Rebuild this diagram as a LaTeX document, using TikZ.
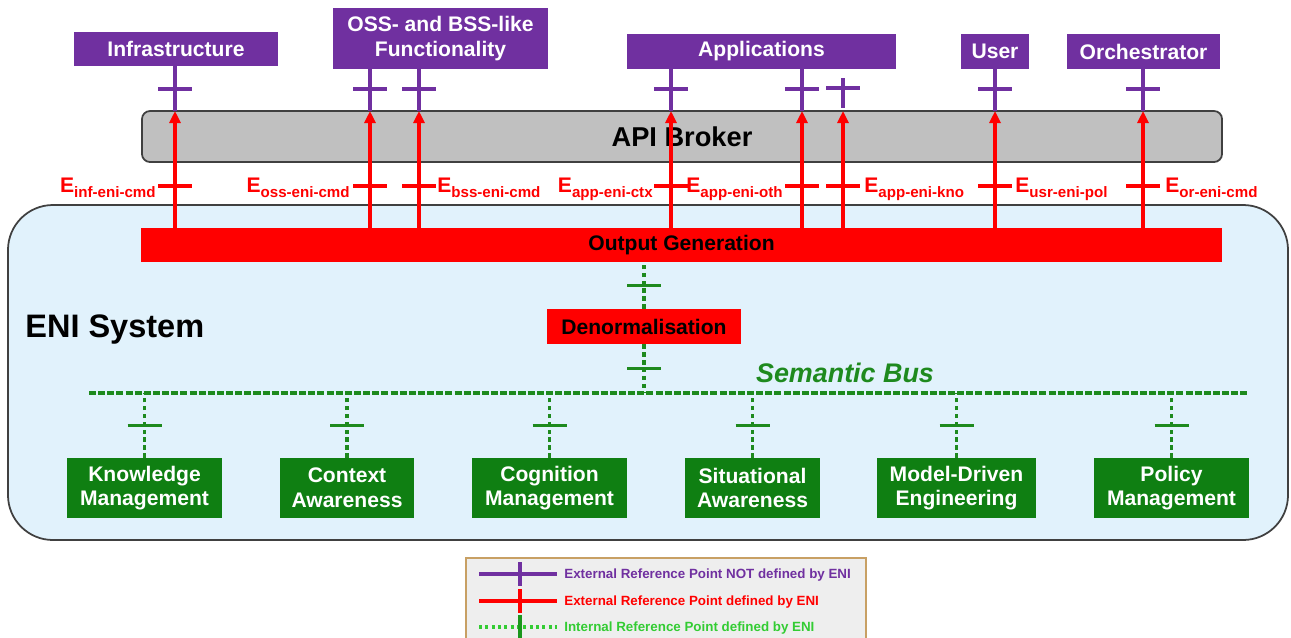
\documentclass[tikz,border=0pt]{standalone}
\usepackage{fontspec}
\setmainfont{Liberation Sans}
\usetikzlibrary{arrows.meta,calc}
\definecolor{extpurple}{HTML}{7030A0}
\definecolor{enired}{HTML}{FF0000}
\definecolor{fngreen}{HTML}{0F7F12}
\definecolor{busgreen}{HTML}{1E8A1E}
\definecolor{litegreen}{HTML}{33CC33}
\definecolor{system}{HTML}{E1F2FC}
\definecolor{broker}{HTML}{C0C0C0}
\definecolor{frame}{HTML}{404040}
\definecolor{legendfill}{HTML}{EEEEEE}
\definecolor{legendrim}{HTML}{C8A064}
\tikzset{
  extbox/.style={fill=extpurple,text=white,font=\fontsize{12}{14}\selectfont\bfseries,align=center,inner sep=2pt,minimum height=7mm},
  fnbox/.style={fill=fngreen,text=white,font=\fontsize{12}{14}\selectfont\bfseries,align=center,inner sep=2pt,minimum height=12mm},
  redbox/.style={fill=enired,text=black,font=\fontsize{12}{14}\selectfont\bfseries,align=center,inner sep=2pt,minimum height=7mm},
  purpleline/.style={extpurple,line width=2pt},
  redline/.style={enired,line width=2pt,-{Triangle[length=2.4mm,width=2.2mm]}},
  redtick/.style={enired,line width=2pt},
  intline/.style={busgreen,line width=2pt,dash pattern=on 2.5pt off 2pt},
  inttick/.style={busgreen,line width=2pt},
  busline/.style={busgreen,line width=2pt,dash pattern=on 4pt off 1.2pt},
  reflabel/.style={text=enired,font=\fontsize{12}{14}\selectfont\bfseries,inner sep=0pt},
  legendtext/.style={font=\fontsize{7.6}{8}\selectfont\bfseries,anchor=west,inner sep=0pt},
}
\newcommand{\epoint}[1]{E\raisebox{-0.5ex}{\fontsize{8.6}{9}\selectfont #1}}

\begin{document}
\begin{tikzpicture}[x=0.2mm,y=-0.2mm]
  \useasboundingbox (0,0) rectangle (1291,637);

  % ENI system frame
  \node[draw=frame,fill=system,line width=1pt,rounded corners=9mm,minimum width=256mm,minimum height=67mm] (eni) at (648,372.5) {};
  \node[anchor=west,font=\fontsize{18.5}{20}\selectfont\bfseries,inner sep=0pt] (enilabel) at (25,330) {ENI System};

  % external functional blocks
  \node[extbox,minimum width=40.8mm,minimum height=6.8mm] (infra) at (176,49) {Infrastructure};
  \node[extbox,minimum width=43mm,minimum height=12.2mm] (oss) at (440.5,38.5) {OSS- and BSS-like\\Functionality};
  \node[extbox,minimum width=53.8mm] (apps) at (761.5,51.5) {Applications};
  \node[extbox,minimum width=13.6mm] (user) at (995,51.5) {User};
  \node[extbox,minimum width=30.6mm] (orch) at (1143.5,51.5) {Orchestrator};

  \node[draw=frame,fill=broker,line width=1pt,rounded corners=1.6mm,minimum width=216mm,minimum height=10.2mm,font=\fontsize{15.5}{17}\selectfont\bfseries] (broker) at (682,136.5) {API Broker};
  \node[redbox,minimum width=216.2mm,minimum height=6.8mm] (outgen) at (681.5,245) {Output Generation};

  % external reference points
  \foreach \px/\src in {175/infra,370/oss,419/oss,671/apps,802/apps,995/user,1143/orch} {
    \coordinate (ref\px) at (\px,111);
    \draw[purpleline] (ref\px |- \src.south) -- (ref\px);
    \draw[purpleline] ($(ref\px)+(-17,-22)$) -- ($(ref\px)+(17,-22)$);
    \draw[redline] (ref\px |- outgen.north) -- (ref\px);
    \draw[redtick] ($(ref\px)+(-17,75)$) -- ($(ref\px)+(17,75)$);
  }
  \coordinate (ref843) at (843,111);
  \draw[purpleline] ($(ref843)+(0,-33)$) -- ($(ref843)+(0,-3)$);
  \draw[purpleline] ($(ref843)+(-17,-23)$) -- ($(ref843)+(17,-23)$);
  \draw[redline] (ref843 |- outgen.north) -- (ref843);
  \draw[redtick] ($(ref843)+(-17,75)$) -- ($(ref843)+(17,75)$);

  \node[reflabel,anchor=base east] (einf) at (156,192) {\epoint{inf-eni-cmd}};
  \node[reflabel,anchor=base east] (eoss) at (350,192) {\epoint{oss-eni-cmd}};
  \node[reflabel,anchor=base west] (ebss) at (437,192) {\epoint{bss-eni-cmd}};
  \node[reflabel,anchor=base east] (ectx) at (653,192) {\epoint{app-eni-ctx}};
  \node[reflabel,anchor=base east] (eoth) at (783,192) {\epoint{app-eni-oth}};
  \node[reflabel,anchor=base west] (ekno) at (864,192) {\epoint{app-eni-kno}};
  \node[reflabel,anchor=base west] (eusr) at (1015,192) {\epoint{usr-eni-pol}};
  \node[reflabel,anchor=base west] (eor) at (1165,192) {\epoint{or-eni-cmd}};

  % denormalisation and semantic bus
  \node[redbox,minimum width=38.8mm] (denorm) at (644,326.5) {Denormalisation};
  \coordinate (busL) at (89,393);
  \coordinate (busR) at (1247,393);
  \draw[busline] (busL) -- (busR);
  \node[text=busgreen,font=\fontsize{15.3}{17}\selectfont\bfseries\itshape] (buslabel) at (845,373) {Semantic Bus};

  \draw[intline] (denorm.north) -- (denorm.north |- outgen.south);
  \draw[inttick] ($(denorm.north)+(-17,-23)$) -- ($(denorm.north)+(17,-23)$);
  \draw[intline] (denorm.south) -- (denorm.south |- busL);
  \draw[inttick] ($(denorm.south)+(-17,24)$) -- ($(denorm.south)+(17,24)$);

  % ENI functional blocks
  \node[fnbox,minimum width=31mm] (know) at (144.5,488) {Knowledge\\Management};
  \node[fnbox,minimum width=26.8mm] (ctx) at (347,488) {Context\\Awareness};
  \node[fnbox,minimum width=31mm] (cog) at (549.5,488) {Cognition\\Management};
  \node[fnbox,minimum width=27mm] (sit) at (752.5,488) {Situational\\Awareness};
  \node[fnbox,minimum width=31.8mm] (mde) at (956.5,488) {Model-Driven\\Engineering};
  \node[fnbox,minimum width=31mm] (pol) at (1171.5,488) {Policy\\Management};
  \foreach \blk in {know,ctx,cog,sit,mde,pol} {
    \draw[intline] (\blk.north) -- (\blk.north |- busL);
    \draw[inttick] ($(\blk.north)+(-17,-32)$) -- ($(\blk.north)+(17,-32)$);
  }

  % legend
  \node[draw=legendrim,fill=legendfill,line width=1.2pt,minimum width=80mm,minimum height=18.4mm] (legend) at (666,604) {};
  \draw[extpurple,line width=2pt] (479,574) -- (557,574);
  \draw[extpurple,line width=2pt] (520,562) -- (520,586);
  \node[legendtext,text=extpurple] (lgext) at (564,575) {External Reference Point NOT defined by ENI};
  \draw[enired,line width=2pt] (479,601) -- (557,601);
  \draw[enired,line width=2pt] (520,589) -- (520,613);
  \node[legendtext,text=enired] (lgred) at (564,602) {External Reference Point defined by ENI};
  \draw[litegreen,line width=2pt,dash pattern=on 1.8pt off 1.8pt] (479,627) -- (557,627);
  \draw[fngreen!70!litegreen,line width=2pt] (520,615) -- (520,640);
  \node[legendtext,text=litegreen] (lgint) at (564,628) {Internal Reference Point defined by ENI};
\end{tikzpicture}
\end{document}
